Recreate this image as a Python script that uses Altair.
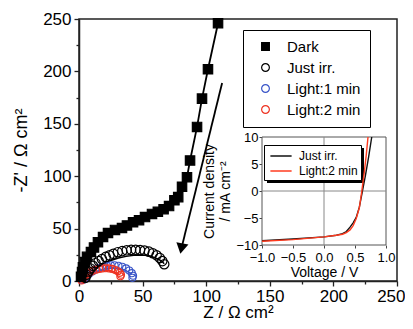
import altair as alt
import pandas as pd

FONT = "Liberation Sans"

# ---- main Nyquist data ----
series_names = ["Dark", "Just irr.", "Light:1 min", "Light:2 min"]
series_stroke = ["black", "black", "#3a55c8", "#ee3322"]
series_fill = ["black", "transparent", "transparent", "transparent"]
series_shape = ["square", "circle", "circle", "circle"]

dark_z = [1.6, 2.4, 3.1, 4.7, 6.3, 9.4, 11.8, 14.9, 18.9, 22.8, 28.3, 33.8, 37.7, 42.5,
          47.2, 51.9, 57.4, 62.0, 66.5, 70.8, 75.0, 78.0, 81.0, 84.9, 87.3, 92.8, 96.7, 101.4, 109.3]
dark_zi = [4, 8.6, 13, 18, 23, 27.7, 32, 37, 42, 45.8, 48.7, 50.6, 53, 56,
           58, 61, 64, 66, 68.5, 71.5, 77, 80, 90, 99, 115, 147, 174, 202, 246]

just_z = [5, 6, 7.5, 9, 11, 13, 15.5, 18, 21, 24, 27, 30.5, 34, 37.5, 41, 44.5, 48, 51.5,
          55, 58, 61, 63.5, 65.5, 67]
just_zi = [3, 6, 9, 12, 14.5, 17, 19, 21, 23, 24.5, 26, 27.5, 28.5, 29.3, 29.7, 29.8, 29.5, 29,
           28, 26.5, 24.5, 22, 19, 16]
just_fit_z = [5, 7, 10, 14, 19, 25, 31, 37, 43, 49, 54, 58, 62, 65, 67]
just_fit_zi = [1, 4, 8, 12, 16, 19.5, 22, 23.5, 24.5, 24.8, 24.3, 23, 21, 19, 16.5]

l1_z = [3, 4.5, 6, 8, 10.5, 13, 16, 19, 22, 25, 28, 31, 34, 37, 39.5, 41.5, 42.5, 42]
l1_zi = [1, 3, 5, 7, 9, 11, 12.5, 13.5, 14.5, 15, 15, 14.5, 13.5, 12, 10, 7.5, 5, 3]
l1_fit_z = [4, 8, 14, 20, 26, 32, 37, 41]
l1_fit_zi = [0.5, 5, 9, 11.5, 12.5, 12, 10, 7]

l2_z = [2, 3, 4, 5.5, 7, 9, 11, 13.5, 16, 18.5, 21, 23.5, 26, 28.5, 30.5, 32, 33, 32.5]
l2_zi = [0.5, 2, 4, 5.5, 7, 8.5, 9.8, 10.8, 11.5, 12, 12.2, 12, 11.5, 10.5, 9.3, 7.8, 6, 4.5]
l2_fit_z = [3, 6, 10, 15, 20, 25, 29, 32]
l2_fit_zi = [0.5, 4, 7.5, 9.5, 10.2, 9.8, 8, 6]

arrow_z = [112.5, 80.5]
arrow_zi = [189, 31]

# ---- inset J-V data ----
jv_names = ["Just irr.", "Light:2 min"]
jv_colors = ["#111111", "#ff3b1f"]
v_just = [-1.0, -0.5, 0.0, 0.2, 0.3, 0.36, 0.42, 0.47, 0.52, 0.57, 0.62, 0.67, 0.72, 0.77]
j_just = [-9.2, -8.9, -8.5, -8.2, -7.9, -7.5, -6.7, -5.9, -4.9, -3.0, 0.0, 3.0, 6.3, 10]
v_light2 = [-1.0, -0.5, 0.0, 0.2, 0.3, 0.36, 0.42, 0.47, 0.52, 0.57, 0.61, 0.65, 0.68, 0.71]
j_light2 = [-9.3, -9.0, -8.5, -8.2, -8.0, -7.7, -7.2, -6.4, -5.1, -3.1, 0.0, 3.5, 6.5, 10]

# ---- frames ----
def pts(zs, zis, name):
    return pd.DataFrame({"Z": zs, "Zi": zis, "series": name})

points_df = pd.concat([pts(dark_z, dark_zi, "Dark"), pts(just_z, just_zi, "Just irr."),
                       pts(l1_z, l1_zi, "Light:1 min"), pts(l2_z, l2_zi, "Light:2 min")])
dark_df = pts(dark_z, dark_zi, "Dark")
arrow_df = pd.DataFrame({"Z": arrow_z, "Zi": arrow_zi})
arrow_head = arrow_df.iloc[[1]]

jv_df = pd.concat([
    pd.DataFrame({"V": v_just, "J": j_just, "curve": "Just irr.", "o": range(len(v_just))}),
    pd.DataFrame({"V": v_light2, "J": j_light2, "curve": "Light:2 min", "o": range(len(v_light2))}),
])

tick_cond = {"condition": {"test": "datum.value % 50 === 0", "value": 5}, "value": 3}

xax = alt.Axis(values=list(range(0, 251, 25)), labelExpr="datum.value % 50 === 0 ? datum.label : ''",
               tickSize=tick_cond, title="Z / Ω cm²", labelFontSize=17, titleFontSize=17,
               labelFont=FONT, titleFont=FONT, titleFontWeight="normal", labelColor="black",
               titleColor="black", domainColor="#222", tickColor="#222", domainWidth=1.5,
               tickWidth=1.3, labelPadding=2, titlePadding=0, grid=False, labelFlush=False,
               labelAlign={"condition": {"test": "datum.value === 250", "value": "right"}, "value": "center"},
               labelOffset={"condition": {"test": "datum.value === 250", "value": 8}, "value": 0})
yax = alt.Axis(values=list(range(0, 251, 25)), labelExpr="datum.value % 50 === 0 ? datum.label : ''",
               tickSize=tick_cond, title="-Z' / Ω cm²", labelFontSize=17, titleFontSize=18,
               labelFont=FONT, titleFont=FONT, titleFontWeight="normal", labelColor="black",
               titleColor="black", domainColor="#222", tickColor="#222", domainWidth=1.5,
               tickWidth=1.3, labelPadding=3, titlePadding=12, grid=False, labelFlush=False)

X = alt.X("Z:Q", scale=alt.Scale(domain=[0, 250], nice=False, zero=False), axis=xax)
Y = alt.Y("Zi:Q", scale=alt.Scale(domain=[0, 250], nice=False, zero=False), axis=yax)

legend_main = alt.Legend(orient="none", legendX=164, legendY=11, title=None, strokeColor="black",
                         fillColor="white", padding=9, labelFontSize=15, labelFont=FONT,
                         labelColor="black", symbolSize=60, rowPadding=5, symbolOffset=6,
                         labelOffset=14, symbolStrokeWidth=1.2)

enc_common = dict(
    shape=alt.Shape("series:N", scale=alt.Scale(domain=series_names, range=series_shape), legend=legend_main),
    stroke=alt.Stroke("series:N", scale=alt.Scale(domain=series_names, range=series_stroke), legend=legend_main),
    fill=alt.Fill("series:N", scale=alt.Scale(domain=series_names, range=series_fill), legend=legend_main),
)

shadow_main = alt.Chart(pd.DataFrame({"a": [0]})).mark_rect(color="black").encode(
    x=alt.value(169), x2=alt.value(292), y=alt.value(16), y2=alt.value(104))

dark_line = alt.Chart(dark_df).mark_line(color="black", strokeWidth=1.8).encode(x=X, y=Y)
fit_just = alt.Chart(pts(just_fit_z, just_fit_zi, "f")).mark_line(color="black", strokeWidth=1.5).encode(x=X, y=Y)
fit_l1 = alt.Chart(pts(l1_fit_z, l1_fit_zi, "f")).mark_line(color="#3a55c8", strokeWidth=1.3).encode(x=X, y=Y)
fit_l2 = alt.Chart(pts(l2_fit_z, l2_fit_zi, "f")).mark_line(color="#ee3322", strokeWidth=1.3).encode(x=X, y=Y)

pts_big = alt.Chart(points_df).transform_filter(
    "datum.series == 'Dark' || datum.series == 'Just irr.'").mark_point(
    size=88, strokeWidth=1.2, opacity=1).encode(x=X, y=Y, **enc_common)
pts_small = alt.Chart(points_df).transform_filter(
    "datum.series == 'Light:1 min' || datum.series == 'Light:2 min'").mark_point(
    size=50, strokeWidth=1.1, opacity=1).encode(x=X, y=Y, **enc_common)

arrow_line = alt.Chart(arrow_df).mark_line(color="black", strokeWidth=1.8).encode(x=X, y=Y)
arrow_tip = alt.Chart(arrow_head).mark_point(shape="triangle-down", size=150, filled=True,
                                             color="black", angle=11, opacity=1).encode(x=X, y=Y)

main = alt.layer(shadow_main, fit_l2, fit_l1, fit_just, dark_line, pts_small, pts_big,
                 arrow_line, arrow_tip)

# ---- inset ----
ix_ax = alt.Axis(orient="bottom", offset=-36, values=[-1.0, -0.5, 0.0, 0.5, 1.0], format=".1f",
                 title="Voltage / V", labelFontSize=13, titleFontSize=14, labelFont=FONT,
                 titleFont=FONT, titleFontWeight="normal", labelColor="black", titleColor="black",
                 domain=False, tickColor="#444", tickSize=3, labelPadding=3, titlePadding=1,
                 grid=False, labelFlush=False, labelOverlap=False)
iy_ax = alt.Axis(orient="left", offset=-183, values=[-10, -5, 0, 5, 10],
                 title=["Current density", "/ mA cm⁻²"], labelFontSize=13, titleFontSize=14,
                 labelFont=FONT, titleFont=FONT, titleFontWeight="normal", labelColor="black",
                 titleColor="black", domain=False, tickColor="#444", tickSize=3, labelPadding=1,
                 titlePadding=3, grid=False, labelFlush=False, labelOverlap=False)
IX = alt.X("V:Q", scale=alt.Scale(domain=[-1, 1], range=[183, 307], nice=False, zero=False), axis=ix_ax)
IY = alt.Y("J:Q", scale=alt.Scale(domain=[-10, 10], range=[226, 118], nice=False, zero=False), axis=iy_ax)

frame_df = pd.DataFrame({"V": [-1.0], "V2": [1.0], "J": [-10], "J2": [10]})
inset_frame = alt.Chart(frame_df).mark_rect(fill="white", stroke="#555", strokeWidth=1).encode(
    x=IX, x2="V2:Q", y=IY, y2="J2:Q")
gridv = alt.Chart(pd.DataFrame({"V": [0.0], "J": [-10], "J2": [10]})).mark_rule(
    color="#888", strokeWidth=1).encode(x=IX, y=IY, y2="J2:Q")
gridh = alt.Chart(pd.DataFrame({"V": [-1.0], "V2": [1.0], "J": [0]})).mark_rule(
    color="#888", strokeWidth=1).encode(x=IX, x2="V2:Q", y=IY)

legend_inset = alt.Legend(orient="none", legendX=185, legendY=126, title=None, strokeColor="black",
                          fillColor="white", padding=3, labelFontSize=12, labelFont=FONT,
                          labelColor="black", symbolType="M-1.5,0H1.5", symbolSize=200,
                          symbolStrokeWidth=1.5, rowPadding=1, symbolOffset=6, labelOffset=10)
shadow_inset = alt.Chart(pd.DataFrame({"a": [0]})).mark_rect(color="black").encode(
    x=alt.value(188), x2=alt.value(285), y=alt.value(129), y2=alt.value(164))
jv_lines = alt.Chart(jv_df).mark_line(strokeWidth=1.4).encode(
    x=IX, y=IY, order="o:Q",
    color=alt.Color("curve:N", scale=alt.Scale(domain=jv_names, range=jv_colors), legend=legend_inset))

inset = alt.layer(inset_frame, gridv, gridh, shadow_inset, jv_lines)

chart = alt.layer(main, inset).resolve_scale(
    x="independent", y="independent", color="independent", stroke="independent",
    fill="independent", shape="independent"
).properties(
    width=318, height=262,
    autosize=alt.AutoSizeParams(type="none"),
    padding={"left": 71, "top": 11, "right": 8, "bottom": 40},
).configure_view(stroke="#222", strokeWidth=1.5)

chart.save("out.html", embed_options={"renderer": "svg", "actions": False})
